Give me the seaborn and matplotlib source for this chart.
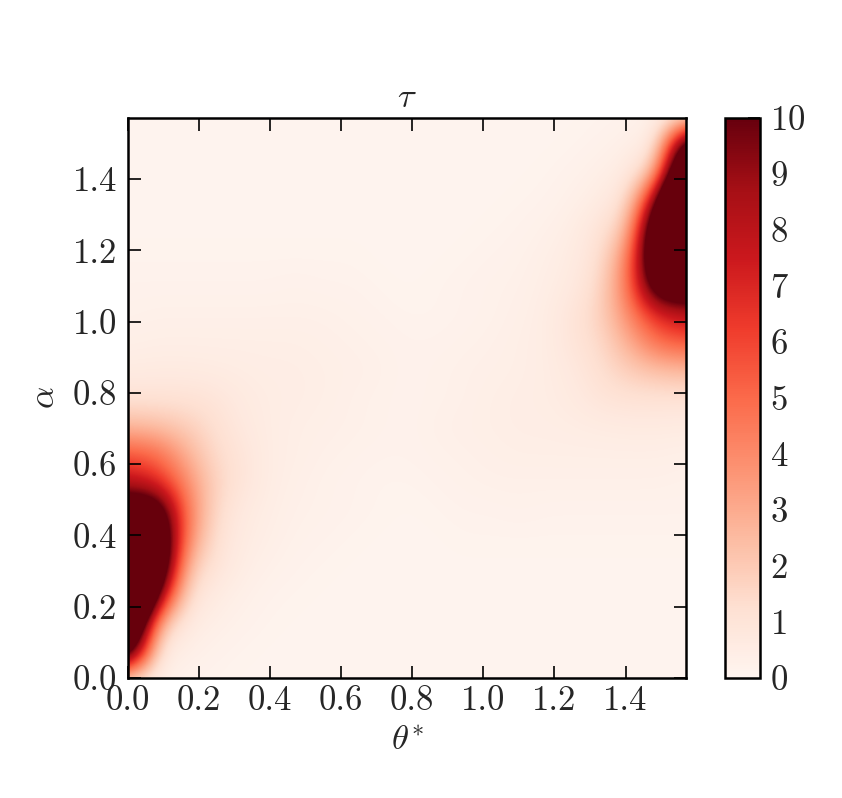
import numpy as np
import seaborn as sns
import matplotlib
matplotlib.use("Agg")
import matplotlib.pyplot as plt

# grid nodes (rad), step pi/40
theta_nodes = [0.0, 0.0785, 0.1571, 0.2356, 0.3142, 0.3927, 0.4712, 0.5498, 0.6283, 0.7069,
               0.7854, 0.8639, 0.9425, 1.0210, 1.0996, 1.1781, 1.2566, 1.3352, 1.4137, 1.4923, 1.5708]
alpha_nodes = [0.0, 0.0785, 0.1571, 0.2356, 0.3142, 0.3927, 0.4712, 0.5498, 0.6283, 0.7069,
               0.7854, 0.8639, 0.9425, 1.0210, 1.0996, 1.1781, 1.2566, 1.3352, 1.4137, 1.4923, 1.5708]

# tau values, one row per alpha node (bottom -> top), saturated zones > 10
tau = [
    [1, .4, .2, .15, .1, .1, .1, .1, .1, .1, .1, .1, .1, .1, .1, .1, .1, .1, .1, .1, .1],
    [14, .8, .4, .25, .15, .1, .1, .1, .1, .1, .1, .1, .1, .1, .1, .1, .1, .1, .1, .1, .1],
    [20, 3, .7, .4, .25, .15, .1, .1, .1, .1, .1, .1, .1, .1, .1, .1, .1, .1, .1, .1, .1],
    [30, 10, 1.5, .6, .35, .2, .15, .1, .1, .1, .1, .1, .1, .1, .1, .1, .1, .1, .1, .1, .1],
    [30, 16, 2.5, 1.1, .5, .3, .2, .15, .1, .1, .1, .1, .1, .1, .1, .1, .1, .1, .1, .1, .1],
    [30, 16, 4.5, 1.3, .6, .4, .25, .2, .15, .1, .1, .1, .15, .15, .15, .15, .15, .15, .15, .15, .15],
    [13, 13, 5, 1.6, .7, .45, .3, .25, .2, .15, .1, .15, .2, .2, .25, .2, .2, .2, .2, .2, .2],
    [8, 7, 4.2, 1.8, 1.0, .5, .35, .25, .2, .15, .15, .2, .25, .3, .3, .3, .3, .3, .3, .3, .25],
    [5.5, 5, 3.0, 1.5, 1.0, .5, .4, .3, .25, .2, .2, .25, .3, .35, .4, .4, .4, .4, .4, .4, .35],
    [2.5, 2.3, 1.9, 1.3, .75, .5, .4, .35, .3, .25, .2, .3, .35, .4, .45, .45, .5, .55, .6, .6, .55],
    [1.1, 1.1, 1.1, 1.0, .65, .5, .45, .4, .3, .25, .2, .25, .3, .4, .45, .5, .65, 1.0, 1.1, 1.1, 1.1],
    [.55, .6, .6, .55, .5, .45, .45, .4, .35, .3, .2, .25, .3, .35, .4, .5, .75, 1.3, 1.9, 2.3, 2.5],
    [.35, .4, .4, .4, .4, .4, .4, .35, .3, .25, .2, .2, .25, .3, .4, .5, 1.0, 1.5, 3.0, 5, 5.5],
    [.25, .3, .3, .3, .3, .3, .3, .3, .25, .2, .15, .15, .2, .25, .35, .5, 1.0, 1.8, 4.2, 7, 8],
    [.2, .2, .2, .2, .2, .2, .25, .2, .2, .15, .1, .15, .2, .25, .3, .45, .7, 1.6, 5, 13, 13],
    [.15, .15, .15, .15, .15, .15, .15, .15, .15, .1, .1, .1, .15, .2, .25, .4, .6, 1.3, 4.5, 16, 30],
    [.1, .1, .1, .1, .1, .1, .1, .1, .1, .1, .1, .1, .1, .15, .2, .3, .5, 1.1, 2.5, 16, 30],
    [.1, .1, .1, .1, .1, .1, .1, .1, .1, .1, .1, .1, .1, .1, .15, .2, .35, .6, 1.5, 10, 30],
    [.1, .1, .1, .1, .1, .1, .1, .1, .1, .1, .1, .1, .1, .1, .1, .15, .25, .4, .7, 3, 20],
    [.1, .1, .1, .1, .1, .1, .1, .1, .1, .1, .1, .1, .1, .1, .1, .1, .15, .25, .4, .8, 14],
    [.1, .1, .1, .1, .1, .1, .1, .1, .1, .1, .1, .1, .1, .1, .1, .1, .1, .15, .2, .4, 1],
]

axis_ticks = [0.0, 0.2, 0.4, 0.6, 0.8, 1.0, 1.2, 1.4]
cbar_ticks = [0, 1, 2, 3, 4, 5, 6, 7, 8, 9, 10]

sns.set_style("ticks", {"xtick.direction": "in", "ytick.direction": "in"})
plt.rcParams["font.family"] = "cmr10"
plt.rcParams["mathtext.fontset"] = "cm"
plt.rcParams["axes.formatter.use_mathtext"] = True
plt.rcParams["font.size"] = 25

fig = plt.figure(figsize=(8.42, 7.98), dpi=100)
ax = fig.add_axes([0.152, 0.1504, 0.663, 0.7017])

h = theta_nodes[1] - theta_nodes[0]
k = alpha_nodes[1] - alpha_nodes[0]
im = ax.imshow(np.array(tau), origin="lower", cmap="Reds", vmin=0, vmax=10,
               extent=[theta_nodes[0] - h / 2, theta_nodes[-1] + h / 2,
                       alpha_nodes[0] - k / 2, alpha_nodes[-1] + k / 2],
               interpolation="bicubic", interpolation_stage="data", aspect="auto")
ax.set_xlim(theta_nodes[0], theta_nodes[-1])
ax.set_ylim(alpha_nodes[0], alpha_nodes[-1])
ax.set_xticks(axis_ticks)
ax.set_yticks(axis_ticks)
ax.xaxis.set_major_formatter(plt.FormatStrFormatter("%.1f"))
ax.yaxis.set_major_formatter(plt.FormatStrFormatter("%.1f"))
ax.tick_params(direction="in", length=9, width=1.2, top=True, right=True,
               labelsize=25, color="black")
ax.tick_params(axis="x", pad=5)
ax.tick_params(axis="y", pad=8)
for s in ax.spines.values():
    s.set_linewidth(1.8)
    s.set_color("black")

ax.set_title(r"$\tau$", fontsize=25, pad=8)
ax.set_xlabel(r"$\theta^{*}$", fontsize=25, labelpad=7)
ax.set_ylabel(r"$\alpha$", fontsize=25, labelpad=8)

cax = fig.add_axes([0.861, 0.1504, 0.042, 0.7017])
cb = fig.colorbar(im, cax=cax, ticks=cbar_ticks)
cb.outline.set_linewidth(1.8)
cb.outline.set_edgecolor("black")
cax.tick_params(direction="in", length=9, width=1.2, labelsize=25, pad=7, color="black")

fig.savefig("out.png", dpi=100)
